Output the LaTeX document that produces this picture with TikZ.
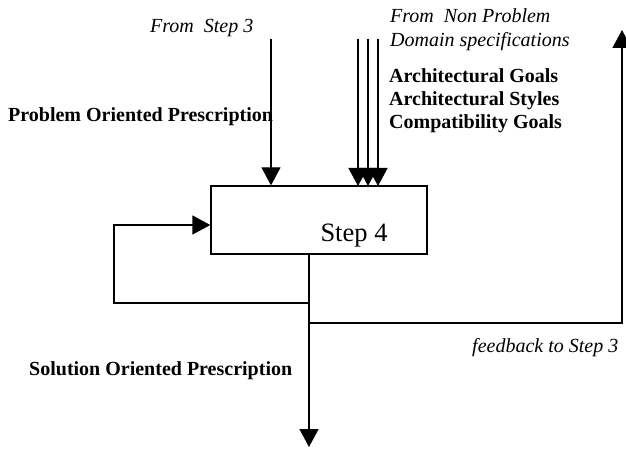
\documentclass[tikz,border=0pt]{standalone}
\usepackage{fontspec}
\setmainfont{Liberation Serif}
\usepackage{tikz}
\usetikzlibrary{shapes,arrows.meta}
\tikzstyle{stepbox}=[rectangle, draw=black, line width=1.3pt, minimum width=216pt, minimum height=68pt, inner sep=0pt]
\tikzstyle{ital}=[font=\fontsize{20}{24}\selectfont\itshape, inner sep=0pt, anchor=west, align=left]
\tikzstyle{boldlbl}=[font=\fontsize{20}{23}\selectfont\bfseries, inner sep=0pt, anchor=west, align=left]
\tikzstyle{flow}=[draw=black, line width=1.3pt, -{Triangle[width=19pt,length=18pt]}]
\tikzstyle{wire}=[draw=black, line width=1.3pt]

\begin{document}
\begin{tikzpicture}[x=1pt, y=-1pt]
\useasboundingbox (0,0) rectangle (626,449);
\node [stepbox] (step4) at (319,220) {};
\node [font=\fontsize{26.5}{30}\selectfont, inner sep=0pt] (step4txt) at (354,236) {Step 4};
\node [ital] (fromstep) at (150,28) {From~ Step 3};
\node [ital] (fromnon) at (390,30) {From~ Non Problem\\Domain specifications};
\node [boldlbl] (goals) at (389,101) {Architectural Goals\\Architectural Styles\\Compatibility Goals};
\node [boldlbl] (probpre) at (8,117) {Problem Oriented Prescription};
\node [boldlbl] (solpre) at (29,371) {Solution Oriented Prescription};
\node [ital] (feedback) at (472,348) {feedback to Step 3};
% free ends
\coordinate (s3in) at (271,39);
\coordinate (out) at (309,447);
\coordinate (loopc) at (114,303);
\coordinate (fbc) at (622,30);
\coordinate (fbsplit) at (309,323);
% inputs
\draw [flow] (s3in) -- (s3in |- step4.north);
\foreach \x in {358,368,378}
  \draw [flow] (\x,39) -- (\x,186);
% output and loops
\draw [flow] (step4.south -| out) -- (out);
\draw [flow] (loopc -| out) -- (loopc) -- (loopc |- 0,225) -- (step4.west |- 0,225);
\draw [flow] (fbsplit) -- (fbsplit -| fbc) -- (fbc);

\end{tikzpicture}
\end{document}
